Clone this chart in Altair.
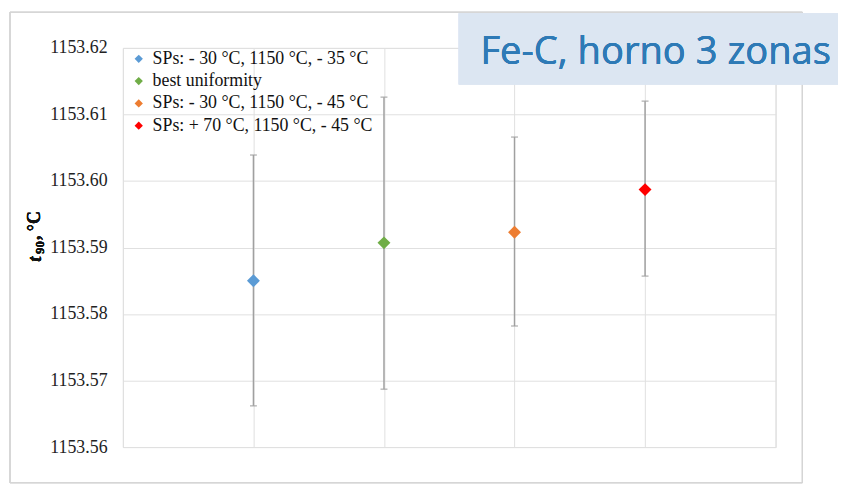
import altair as alt
import pandas as pd

# ---- data ----
series = [
    "SPs: - 30 °C, 1150 °C, - 35 °C",
    "best uniformity",
    "SPs: - 30 °C, 1150 °C, - 45 °C",
    "SPs: + 70 °C, 1150 °C, - 45 °C",
]
x_pos = [1, 2, 3, 4]
t90 = [1153.5850, 1153.5907, 1153.5923, 1153.5987]
err_lo = [1153.5662, 1153.5687, 1153.5782, 1153.5857]
err_hi = [1153.6039, 1153.6126, 1153.6066, 1153.6120]
colors = ["#5b9bd5", "#70ad47", "#ed7d31", "#ff0000"]
y_ticks = [1153.56, 1153.57, 1153.58, 1153.59, 1153.60, 1153.61, 1153.62]
x_grid = [0, 1, 2, 3, 4, 5]

df = pd.DataFrame({"series": series, "x": x_pos, "t90": t90, "lo": err_lo, "hi": err_hi})

W, H = 659, 403
SERIF = "Liberation Serif"
GRID = "#e0e0e0"

xscale = alt.Scale(domain=[0, 5], nice=False, zero=False)
yscale = alt.Scale(domain=[1153.56, 1153.62], nice=False, zero=False)

xaxis = alt.Axis(values=x_grid, grid=True, gridColor=GRID, gridWidth=1, labels=False,
                 ticks=False, domain=False, title=None)
yaxis = alt.Axis(values=y_ticks, format=".2f", grid=True, gridColor=GRID, gridWidth=1,
                 ticks=False, domain=False, title=None, labelFont=SERIF, labelFontSize=18,
                 labelColor="#222222", labelPadding=16)

# frame around whole chart
frame = alt.Chart(df).mark_rect(fill=None, stroke="#d4d4d4", strokeWidth=1).encode(
    x=alt.value(-114), x2=alt.value(686), y=alt.value(-36), y2=alt.value(439)
)

base = alt.Chart(df)

rules = base.mark_rule(color="#a0a0a0", strokeWidth=1.5).encode(
    x=alt.X("x:Q", scale=xscale, axis=xaxis),
    y=alt.Y("lo:Q", scale=yscale, axis=yaxis),
    y2="hi:Q",
)
caps_lo = base.mark_tick(orient="horizontal", size=7, thickness=1.5, color="#a0a0a0").encode(
    x=alt.X("x:Q", scale=xscale), y=alt.Y("lo:Q", scale=yscale)
)
caps_hi = base.mark_tick(orient="horizontal", size=7, thickness=1.5, color="#a0a0a0").encode(
    x=alt.X("x:Q", scale=xscale), y=alt.Y("hi:Q", scale=yscale)
)
points = base.mark_point(shape="diamond", filled=True, size=170, opacity=1).encode(
    x=alt.X("x:Q", scale=xscale),
    y=alt.Y("t90:Q", scale=yscale),
    color=alt.Color(
        "series:N",
        scale=alt.Scale(domain=series, range=colors),
        sort=series,
        legend=alt.Legend(
            title=None, orient="none", legendX=7, legendY=2, symbolType="diamond",
            symbolSize=70, symbolStrokeWidth=0, labelFont=SERIF, labelFontSize=18,
            labelColor="#111111", labelOffset=5, rowPadding=4.5, padding=0,
            labelLimit=400,
        ),
    ),
)

# y axis title: t (italic) with subscript 90, then ", °C"
t_title = alt.Chart(df).mark_text(angle=270, align="left", baseline="middle", font=SERIF,
                                  fontSize=19, fontWeight="bold", fontStyle="italic",
                                  color="#111111").encode(
    x=alt.value(-89), y=alt.value(216), text=alt.value("t"))
sub_title = alt.Chart(df).mark_text(angle=270, align="left", baseline="middle", font=SERIF,
                                    fontSize=13, fontWeight="bold", color="#111111").encode(
    x=alt.value(-84), y=alt.value(208), text=alt.value("90"))
rest_title = alt.Chart(df).mark_text(angle=270, align="left", baseline="middle", font=SERIF,
                                     fontSize=18, fontWeight="bold", color="#111111").encode(
    x=alt.value(-89), y=alt.value(194), text=alt.value(", °C"))

# banner
banner = alt.Chart(df).mark_rect(fill="#dce6f2").encode(
    x=alt.value(339), x2=alt.value(730), y=alt.value(-35), y2=alt.value(37))
banner_text = alt.Chart(df).mark_text(align="left", baseline="alphabetic", font="Open Sans",
                                      fontSize=38.5, fontWeight="normal", color="#2e7ab6").encode(
    x=alt.value(361), y=alt.value(16), text=alt.value("Fe-C, horno 3 zonas"))

chart = alt.layer(
    frame, rules, caps_lo, caps_hi, points, t_title, sub_title, rest_title, banner, banner_text
).properties(
    width=W, height=H,
    autosize=alt.AutoSizeParams(type="none"),
    padding={"left": 116, "top": 38, "right": 63, "bottom": 37},
).configure_view(stroke=None).configure(background="white")

chart.save("out.html", embed_options={"renderer": "svg", "actions": False})
